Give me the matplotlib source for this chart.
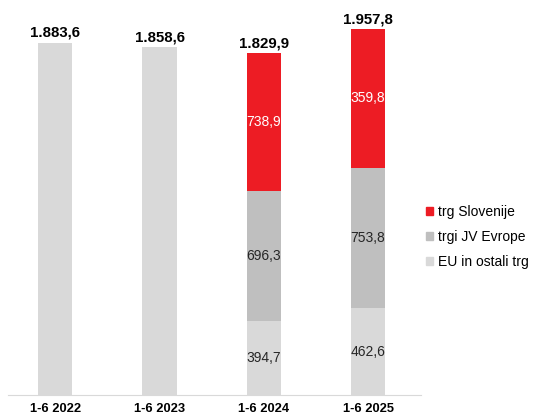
import matplotlib.pyplot as plt
from matplotlib.patches import Patch

plt.rcParams['font.family'] = ['Liberation Sans', 'DejaVu Sans']

# Data (mio EUR)
periods = ["1-6 2022", "1-6 2023", "1-6 2024", "1-6 2025"]
eu_ostali = [1883.6, 1858.6, 394.7, 462.6]
jv_evropa = [0, 0, 696.3, 753.8]
slovenija = [0, 0, 738.9, 741.4]
totals = [1883.6, 1858.6, 1829.9, 1957.8]

# label texts as printed in the source chart
eu_labels = ["", "", "394,7", "462,6"]
jv_labels = ["", "", "696,3", "753,8"]
slo_labels = ["", "", "738,9", "359,8"]
total_labels = ["1.883,6", "1.858,6", "1.829,9", "1.957,8"]

c_light = "#D9D9D9"
c_mid = "#BFBFBF"
c_red = "#ED1C24"

fig = plt.figure(figsize=(5.37, 4.19), dpi=100)
ax = fig.add_axes([0.0155, 0.0573, 0.769, 0.8926])

x = range(len(periods))
w = 0.33
b1 = ax.bar(x, eu_ostali, w, color=c_light)
b2 = ax.bar(x, jv_evropa, w, bottom=eu_ostali, color=c_mid)
bottom3 = [a + b for a, b in zip(eu_ostali, jv_evropa)]
b3 = ax.bar(x, slovenija, w, bottom=bottom3, color=c_red)

ax.bar_label(b1, labels=eu_labels, label_type="center", fontsize=10, color="#262626")
ax.bar_label(b2, labels=jv_labels, label_type="center", fontsize=10, color="#262626")
ax.bar_label(b3, labels=slo_labels, label_type="center", fontsize=10, color="white")

for i, t in enumerate(totals):
    ax.annotate(total_labels[i], (i, t), xytext=(0, 2), textcoords="offset points",
                ha="center", va="bottom", fontsize=10.8, fontweight="bold")

ax.set_xlim(-0.45, 3.51)
ax.set_ylim(0, 2000)
ax.set_xticks(list(x))
ax.set_xticklabels(periods, fontsize=9.3, fontweight="bold")
ax.tick_params(axis="x", length=0, pad=6)
ax.set_yticks([])
for s in ["top", "right", "left"]:
    ax.spines[s].set_visible(False)
ax.spines["bottom"].set_color("#D9D9D9")

handles = [Patch(color=c_red, label="trg Slovenije"),
           Patch(color=c_mid, label="trgi JV Evrope"),
           Patch(color=c_light, label="EU in ostali trg")]
fig.legend(handles=handles, loc="center left", bbox_to_anchor=(0.78, 0.435),
           frameon=False, fontsize=10, handlelength=0.5, handleheight=0.5,
           handletextpad=0.35, labelspacing=0.78, borderpad=0)

fig.savefig("out.png", dpi=100)
